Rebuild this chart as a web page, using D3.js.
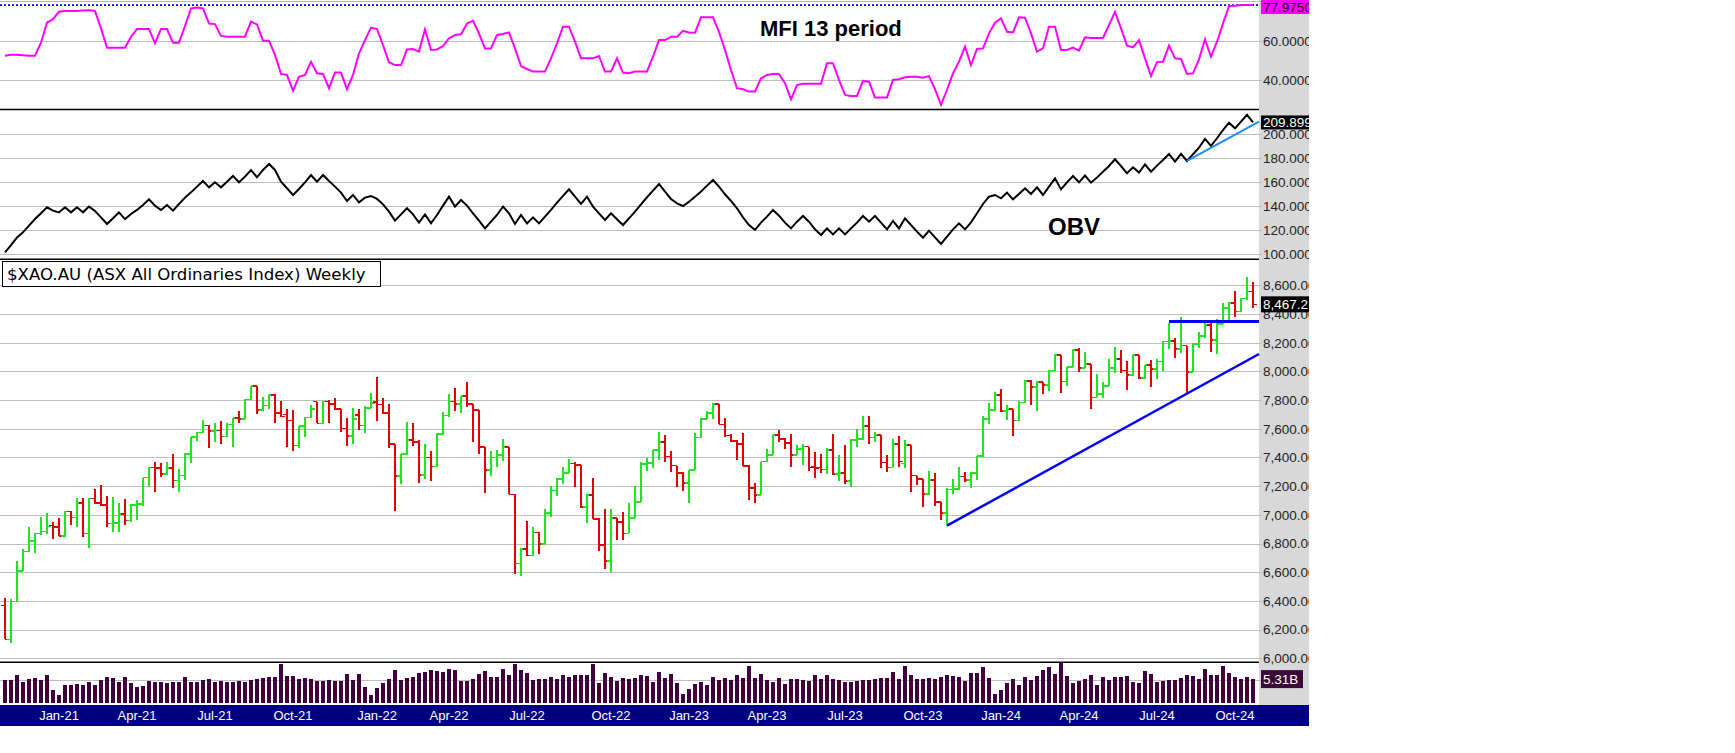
<!DOCTYPE html>
<html>
<head>
<meta charset="utf-8">
<script src="https://cdn.jsdelivr.net/npm/d3@7"></script>
<style>
  body { margin: 0; background: #fff; }
  svg { display: block; }
</style>
</head>
<body>
<svg id="chart" width="1735" height="753"></svg>
<script>
// weekly bars, first bar = week ending Fri 30 Oct 2020
var firstWeek = "2020-10-30";

var opens = [
  6367,6132,6395,6609,6744,6818,6871,6883,6925,6915, 6853,7022,6981,7081,6871,7115,7081,7069,6941,6945,
  7004,6960,7069,7074,7259,7331,7326,7285,7326,7239, 7273,7422,7541,7573,7622,7585,7589,7545,7631,7673,
  7668,7805,7899,7731,7761,7835,7708,7700,7657,7483, 7620,7678,7789,7638,7789,7771,7738,7603,7550,7696,
  7622,7743,7785,7770,7708,7492,7271,7422,7520,7506, 7278,7399,7336,7564,7692,
  7789,7771,7829,7771,7731,7471,7311,7399,7417,7471, 7143,6662,6760,6716,6878,6795,7011,7171,7248,7290,
  7359,7348,7053,7139,6971,6790,6679,6976,6948,6871, 6976,7088,7355,7360,7452,7506,7406,7343,7290,7220,
  7313,7538,7666,7708,7773,7631,7552,7515,7492,7341, 7185,7139,7371,7417,7557,7529,7499,7417,7457,7476,
  7335,7330,7315,7452,7283,7290,7236,7522,7527,7620, 7538,7557,7366,7331,7494,
  7359,7487,7273,7250,7146,7243,7088,7011,7178,7180, 7266,7243,7290,7410,7666,7731,7836,7724,7738,7657,
  7784,7933,7891,7924,7905,8005,8114,7929,8029,8149, 8022,8052,7819,7843,7898,8022,8087,8005,7975,8114,
  7952,8045,8015,8068,8207,8210,8156,8180,7994,8189, 8247,8324,8219,8331,8440,8475,8417,8509,8556
];
var highs = [
  6418,6414,6681,6762,6918,6871,6983,7011,6953,6976, 7027,7027,7115,7115,7120,7178,7208,7132,7122,7081,
  7108,7076,7104,7259,7331,7366,7359,7371,7424,7318, 7434,7545,7580,7661,7627,7638,7654,7638,7673,7727,
  7805,7901,7899,7819,7840,7840,7796,7735,7731,7620, 7685,7766,7789,7796,7801,7817,7738,7673,7743,7736,
  7761,7852,7959,7817,7773,7492,7422,7645,7638,7522, 7494,7445,7568,7720,7840,
  7887,7829,7929,7771,7731,7471,7445,7452,7529,7471, 7143,6767,6957,6913,6878,7041,7201,7255,7331,7390,
  7366,7348,7146,7259,6976,7041,7041,6976,7018,7081, 7201,7366,7394,7452,7575,7557,7445,7343,7297,7313,
  7568,7673,7727,7782,7773,7673,7564,7520,7568,7348, 7220,7371,7459,7562,7592,7534,7564,7487,7492,7476,
  7441,7424,7469,7564,7417,7487,7529,7599,7689,7689, 7575,7557,7417,7529,7550,
  7522,7487,7273,7250,7306,7290,7088,7185,7250,7331, 7301,7297,7410,7689,7782,7859,7877,7766,7738,7794,
  7940,7940,7933,7929,8010,8119,8114,8033,8154,8166, 8133,8052,7982,7924,8087,8168,8149,8073,8119,8114,
  8045,8080,8087,8212,8335,8235,8377,8180,8196,8273, 8335,8340,8366,8475,8486,8563,8514,8656,8621
];
var lows = [
  6132,6105,6395,6609,6739,6732,6860,6864,6830,6853, 6848,6929,6918,6848,6767,7074,7064,6918,6883,6883,
  6929,6953,6964,7064,7204,7162,7266,7278,7190,7157, 7243,7364,7517,7569,7469,7506,7496,7545,7476,7638,
  7665,7801,7701,7724,7738,7638,7680,7476,7445,7469, 7545,7673,7638,7634,7643,7731,7580,7483,7496,7592,
  7573,7743,7657,7701,7469,7029,7215,7417,7480,7225, 7250,7239,7331,7557,7685,
  7727,7713,7750,7510,7422,7155,7273,7336,7378,7143, 6588,6576,6716,6716,6727,6795,6988,7134,7213,7290,
  7197,7046,6946,6971,6751,6623,6604,6825,6825,6871, 6976,7088,7308,7329,7383,7366,7301,7197,7169,7085,
  7313,7538,7666,7668,7631,7545,7510,7383,7341,7104, 7081,7139,7371,7417,7510,7459,7336,7417,7348,7306,
  7255,7290,7283,7278,7236,7215,7197,7476,7522,7494, 7506,7324,7301,7331,7336,
  7329,7157,7208,7057,7139,7064,6964,6925,7143,7173, 7232,7190,7243,7406,7634,7727,7715,7661,7552,7655,
  7782,7766,7727,7840,7864,8000,7847,7898,8029,7994, 8022,7738,7819,7817,7898,7987,7987,7871,7971,7947,
  7945,7894,7945,8005,8156,8096,8126,7852,7994,8166, 8235,8133,8119,8328,8352,8377,8417,8498,8440
];
var closes = [
  6132,6395,6609,6744,6818,6871,6883,6918,6915,6853, 7022,6981,7081,6871,7115,7081,7069,6941,6945,7004,
  6960,7069,7074,7259,7331,7326,7285,7326,7239,7273, 7422,7541,7573,7622,7585,7589,7545,7631,7673,7668,
  7805,7899,7731,7761,7835,7708,7685,7657,7483,7620, 7678,7738,7638,7789,7771,7738,7603,7550,7668,7622,
  7743,7778,7770,7708,7492,7271,7422,7520,7506,7278, 7399,7336,7564,7692,7789,
  7771,7829,7771,7731,7471,7311,7399,7417,7471,7143, 6662,6760,6716,6878,6795,7011,7171,7248,7290,7359,
  7348,7053,7139,6971,6790,6679,6976,6948,6871,6976, 7088,7355,7360,7452,7506,7406,7343,7290,7220,7313,
  7538,7666,7708,7773,7631,7552,7515,7492,7341,7185, 7139,7371,7417,7557,7529,7499,7417,7457,7476,7331,
  7325,7315,7452,7283,7290,7236,7522,7527,7620,7538, 7557,7366,7331,7494,7371,
  7487,7273,7250,7146,7243,7088,7011,7178,7180,7266, 7243,7290,7410,7666,7731,7836,7724,7738,7657,7784,
  7933,7891,7924,7905,8005,8114,7929,8029,8149,8022, 8052,7819,7843,7898,8022,8087,8005,7975,8114,7952,
  8045,8015,8068,8207,8210,8156,8180,7994,8189,8247, 8324,8219,8331,8440,8475,8417,8509,8556,8467.21
];
// weekly volume, billions
var volumes = [
  5.09,5.09,6.19,4.73,5.31,5.53,5.09,6.19,2.91,1.82, 4.00,4.00,4.22,4.00,4.66,4.00,5.09,5.75,5.53,4.66,
  5.75,4.44,3.57,3.78,4.88,4.66,4.66,4.44,4.66,4.66, 5.75,4.66,4.66,5.09,5.31,4.66,4.88,4.66,4.66,4.88,
  4.66,5.09,5.31,5.53,5.75,5.75,8.59,5.97,5.97,5.31, 5.53,5.31,4.88,4.88,5.09,4.88,4.88,6.40,5.09,6.40,
  3.57,1.82,3.35,4.44,5.31,7.28,5.09,5.53,5.75,6.62, 6.84,7.28,7.06,
  6.91,7.50,7.28,4.95,4.95,5.31,6.40,7.06,5.75,5.75, 7.50,6.19,8.59,7.28,6.62,5.09,5.31,5.31,5.75,5.31,
  6.19,5.75,6.19,6.19,6.19,8.59,4.44,6.62,5.75,4.88, 5.53,5.31,5.53,6.19,5.97,4.66,6.84,5.53,6.40,4.44,
  2.04,3.13,4.22,4.66,4.00,5.75,5.09,5.53,5.09,6.19, 5.53,8.15,5.53,6.40,5.09,4.66,5.53,4.22,5.31,5.31,
  5.09,4.88,6.19,5.31,6.19,5.31,5.09,4.66,4.66,4.88, 5.09,5.09,5.31,
  5.53,5.53,6.84,5.31,8.15,6.19,5.31,5.31,5.53,5.31, 5.75,6.19,5.97,5.75,4.88,6.62,6.62,7.93,5.53,2.04,
  2.91,4.44,5.31,4.00,5.75,5.09,5.97,7.28,7.93,6.40, 8.95,5.97,4.44,4.88,5.31,6.19,4.00,5.75,5.09,5.75,
  5.75,5.97,4.66,4.44,7.06,6.40,4.66,4.88,5.09,5.09, 5.53,6.19,5.97,5.31,7.50,6.19,6.19,8.15,6.62,5.75,
  5.31,5.75,5.31
];
var mfi = [
  52.4,52.9,52.9,52.6,52.4,52.4,59,69.1,70.9,74.6, 75,75,75,75.3,75.4,75,66.2,56.5,56.5,56.5,
  56.5,62,65.9,65.9,65.9,58.7,65.9,65.9,59,59, 67.4,76.3,76.8,76.3,68.7,68.4,62.4,62,62,62,
  62,69.6,68.2,60,60,52.8,43.2,42.7,34.8,41.8, 42.7,49.4,43.5,43.2,36,43.9,43.9,35.5,42.7,53.6,
  60.3,66.6,65.9,57.8,49.1,47.7,47.7,55.6,55.8,54.5, 65.7,55.3,55.6,57.3,61.2,
  62.9,63.2,68.7,70.1,63.7,56.1,56.1,62.9,63.4,64.2, 56.1,47.2,45.7,44.4,44.4,44.4,51.1,58.7,67.1,67.1,
  59.5,51.1,51.1,51.1,52.3,44.4,44.4,51.1,43.9,43.6, 44.4,44.4,44.4,51.9,60.3,60.3,62,62,65,64.2,
  64,71.8,71.8,71.8,64.5,55.3,45.2,36,35.5,34.3, 34.3,41,42.7,43.2,43.2,38.5,30.4,37.6,38.2,38.2,
  38.2,38.2,48.6,48.6,40.2,32.6,32.1,32.1,39.7,39.3, 31.3,31.3,31.3,40.2,40.5,
  41.5,41.8,41.8,41.3,42.1,35.5,27.6,35.1,43.5,49.4, 57,47.7,55.8,56.1,63.7,69.1,71.3,64.5,64.2,71.8,
  71.6,63.7,54.5,56.1,67.1,67.1,55.3,55.3,56.5,55, 61.7,61.4,61.4,61.4,67.9,74.6,66.2,57.5,56.6,60.3,
  51.1,42.2,49.2,49.4,57.5,51.1,50.8,43.2,43.5,50.6, 60.7,51.9,59.5,68.7,77.5,77.6,78,78,77.975
];
var obv = [
  101.4,107.5,113.9,118.1,123.7,129.2,134,139,136.2,134.8, 139,134.8,139,134.8,139.6,135.9,130.6,125.1,129.8,134.8,
  129.2,133.4,136.8,140.9,145.7,140.4,136.8,140.9,136.2,141.8, 147.1,151.5,156.3,161,155.7,159.9,155.7,160.4,165.2,159.9,
  164.6,170.2,164.1,170.2,175.2,170.2,160.4,154.9,149.3,154.3, 159.9,166,160.4,166,161,156.3,151.3,144.3,149.3,143.2,
  147.1,148.5,146,141.5,135.4,127.9,133.1,138.2,133.1,126.2, 133.1,125.6,132.6,140.4,147.9,
  139.6,145.1,140.4,134,127.9,121.4,127,132.6,139.6,134, 125.1,132.6,125.6,130.6,125.6,131.2,136.8,142.9,148.5,154,
  147.9,141.8,147.9,139.6,134,128.4,134,129,124.2,129.8, 135.4,141.5,147.4,152.9,158.5,152.1,146,142.3,140.1,143.7,
  147.9,152.1,157.1,161.8,156.3,149.9,144.3,138.2,130.6,124.2, 120.1,126.2,131.2,136.8,132,126.2,121.4,127,131.8,127,
  120.6,115.9,121.4,116.4,121.4,116.4,121.4,126.2,131.8,127, 131.8,126.2,120.6,127.6,121.4,
  129.8,124.2,118.7,113.6,119.5,113.9,108.4,114.5,120.6,125.6, 120.6,126.5,134,141.8,147.9,149.3,146.5,151.3,145.7,150.1,
  154.9,150.1,155.7,149.3,156.3,163.2,154,159.9,165.2,159.9, 165.5,159.6,163.8,168.8,173.5,179.1,173.5,167.4,172.4,168,
  174.9,168.8,173.8,178.6,183.6,177.2,183.6,177.7,183.3,188.9, 196.1,190.3,196.7,203.6,209.7,205,210.6,216.2,209.899
];

var priceTicks = [6000,6200,6400,6600,6800,7000,7200,7400,7600,7800,8000,8200,8400,8600];
var obvTicks = [100,120,140,160,180,200];
var mfiTicks = [40,60,80];
var volGrid = [5.1];
var dateLabels = ["Jan-21","Apr-21","Jul-21","Oct-21","Jan-22","Apr-22","Jul-22","Oct-22",
                  "Jan-23","Apr-23","Jul-23","Oct-23","Jan-24","Apr-24","Jul-24","Oct-24"];

// hand drawn lines: [bar index, value]
var supportLine = [[157, 6925], [209, 8121]];
var resistanceLine = [[194, 8347], [209, 8347]];
var obvTrendLine = [[197, 177.7], [209, 210.5]];

var svg = d3.select("#chart");
var plotRight = 1259, axisRight = 1309;
var font = "'Liberation Sans', Arial, sans-serif";
var green = "#1ee61e", red = "#e60000";

var n = closes.length;
var x = d3.scaleLinear().domain([0, n - 1]).range([5, 1253]);
var yMfi = d3.scaleLinear().domain([40, 60]).range([80.3, 40.7]);
var yObv = d3.scaleLinear().domain([100, 200]).range([254, 134.3]);
var yPrice = d3.scaleLinear().domain([6000, 8600]).range([658.3, 285.3]);
var yVol = d3.scaleLinear().domain([0, 9]).range([703.3, 662.3]);

var start = d3.utcParse("%Y-%m-%d")(firstWeek);
var parseMonth = d3.utcParse("%b-%y");
function monthIndex(lbl) {
    var fri = d3.utcFriday.ceil(parseMonth(lbl));
    return d3.utcFriday.count(start, fri);
}

svg.append("defs").append("clipPath").attr("id", "clipAll")
    .append("rect").attr("x", 0).attr("y", 0).attr("width", axisRight).attr("height", 753);

var root = svg.append("g").attr("clip-path", "url(#clipAll)");

// axis column
root.append("rect").attr("x", plotRight).attr("y", 0).attr("width", axisRight - plotRight)
    .attr("height", 705).attr("fill", "#d8d8d8");

// gridlines
function grid(ticks, scale) {
    root.append("g").selectAll("line").data(ticks).enter().append("line")
        .attr("x1", 0).attr("x2", plotRight + 3)
        .attr("y1", function (d) { return Math.round(scale(d)) + 0.5; })
        .attr("y2", function (d) { return Math.round(scale(d)) + 0.5; })
        .attr("stroke", "#bdbdbd").attr("stroke-width", 1);
}
grid(mfiTicks, yMfi);
grid(obvTicks, yObv);
grid(priceTicks, yPrice);
grid(volGrid, yVol);

// panel separators
[109.5, 259.3, 662.3].forEach(function (yy) {
    root.append("line").attr("x1", 0).attr("x2", plotRight)
        .attr("y1", yy).attr("y2", yy).attr("stroke", "#000").attr("stroke-width", 1.5);
});

// MFI
root.append("line").attr("x1", 0).attr("x2", plotRight)
    .attr("y1", yMfi(mfi[n - 1])).attr("y2", yMfi(mfi[n - 1]))
    .attr("stroke", "#0000ff").attr("stroke-width", 1.6).attr("stroke-dasharray", "2,2");
root.append("path").datum(mfi)
    .attr("d", d3.line().x(function (d, i) { return x(i); }).y(function (d) { return yMfi(d); }))
    .attr("fill", "none").attr("stroke", "#ff00ff").attr("stroke-width", 2);

// OBV
root.append("path").datum(obv)
    .attr("d", d3.line().x(function (d, i) { return x(i); }).y(function (d) { return yObv(d); }))
    .attr("fill", "none").attr("stroke", "#000").attr("stroke-width", 2);
root.append("line")
    .attr("x1", x(obvTrendLine[0][0])).attr("y1", yObv(obvTrendLine[0][1]))
    .attr("x2", x(obvTrendLine[1][0])).attr("y2", yObv(obvTrendLine[1][1]))
    .attr("stroke", "#1e8cff").attr("stroke-width", 2);

// price bars
var idx = d3.range(n);
var bars = root.append("g").attr("shape-rendering", "crispEdges").selectAll("g").data(idx).enter().append("g")
    .attr("stroke", function (i) { return closes[i] >= opens[i] ? green : red; })
    .attr("stroke-width", 1.6);
bars.append("line")
    .attr("x1", function (i) { return x(i); }).attr("x2", function (i) { return x(i); })
    .attr("y1", function (i) { return yPrice(highs[i]); }).attr("y2", function (i) { return yPrice(lows[i]); });
bars.append("line")
    .attr("x1", function (i) { return x(i) - 4; }).attr("x2", function (i) { return x(i); })
    .attr("y1", function (i) { return yPrice(opens[i]); }).attr("y2", function (i) { return yPrice(opens[i]); });
bars.append("line")
    .attr("x1", function (i) { return x(i); }).attr("x2", function (i) { return x(i) + 4; })
    .attr("y1", function (i) { return yPrice(closes[i]); }).attr("y2", function (i) { return yPrice(closes[i]); });

// trend lines
root.append("line")
    .attr("x1", x(supportLine[0][0])).attr("y1", yPrice(supportLine[0][1]))
    .attr("x2", x(supportLine[1][0])).attr("y2", yPrice(supportLine[1][1]))
    .attr("stroke", "#0000ff").attr("stroke-width", 2.5);
root.append("line")
    .attr("x1", x(resistanceLine[0][0])).attr("y1", yPrice(resistanceLine[0][1]))
    .attr("x2", x(resistanceLine[1][0])).attr("y2", yPrice(resistanceLine[1][1]))
    .attr("stroke", "#0000ff").attr("stroke-width", 3);

// volume
root.append("g").attr("shape-rendering", "crispEdges").selectAll("rect").data(volumes).enter().append("rect")
    .attr("x", function (d, i) { return x(i) - 2; })
    .attr("width", 4)
    .attr("y", function (d) { return yVol(d); })
    .attr("height", function (d) { return yVol(0) - yVol(d); })
    .attr("fill", "#400040");

// date band
root.append("rect").attr("x", 0).attr("y", 705).attr("width", axisRight).attr("height", 21).attr("fill", "#000080");
root.append("g").selectAll("text").data(dateLabels).enter().append("text")
    .attr("x", function (d) { return x(monthIndex(d)); })
    .attr("y", 720)
    .attr("text-anchor", "middle")
    .attr("fill", "#fff")
    .style("font", "13px " + font)
    .text(function (d) { return d; });

// axis labels
function axisLabels(ticks, scale, fmt) {
    root.append("g").selectAll("text").data(ticks).enter().append("text")
        .attr("x", plotRight + 4)
        .attr("y", function (d) { return scale(d); })
        .attr("dy", "0.36em")
        .attr("fill", "#222")
        .style("font", "13.5px " + font)
        .text(fmt);
}
axisLabels([40, 60], yMfi, d3.format(".4f"));
axisLabels(obvTicks, yObv, d3.format(".4f"));
axisLabels(priceTicks, yPrice, d3.format(",.2f"));

// last value boxes
function valueBox(yc, h, bg, fg, label) {
    root.append("rect").attr("x", plotRight + 2).attr("y", yc - h / 2)
        .attr("width", label === "5.31B" ? 42 : 60).attr("height", h).attr("fill", bg);
    root.append("text").attr("x", plotRight + 4).attr("y", yc).attr("dy", "0.36em")
        .attr("fill", fg).style("font", "13.5px " + font).text(label);
}
valueBox(7, 14, "#ff00ff", "#000", d3.format(".4f")(mfi[n - 1]));
valueBox(yObv(obv[n - 1]), 14, "#000", "#fff", d3.format(".3f")(obv[n - 1]));
valueBox(yPrice(closes[n - 1]), 16, "#000", "#fff", d3.format(",.2f")(closes[n - 1]));
valueBox(yVol(volumes[n - 1]), 18, "#3a0a3a", "#fff", "5.31B");

// titles
root.append("rect").attr("x", 2.5).attr("y", 261.5).attr("width", 378).attr("height", 25)
    .attr("fill", "#fff").attr("stroke", "#000").attr("stroke-width", 1);
root.append("text").attr("x", 7).attr("y", 279.5).style("font", "16.6px 'DejaVu Sans', Verdana, sans-serif")
    .attr("fill", "#000").text("$XAO.AU (ASX All Ordinaries Index) Weekly");
root.append("text").attr("x", 760).attr("y", 35.5).style("font", "bold 22px " + font)
    .attr("fill", "#000").text("MFI 13 period");
root.append("text").attr("x", 1048).attr("y", 235).style("font", "bold 24px " + font)
    .attr("fill", "#000").text("OBV");
</script>
</body>
</html>
